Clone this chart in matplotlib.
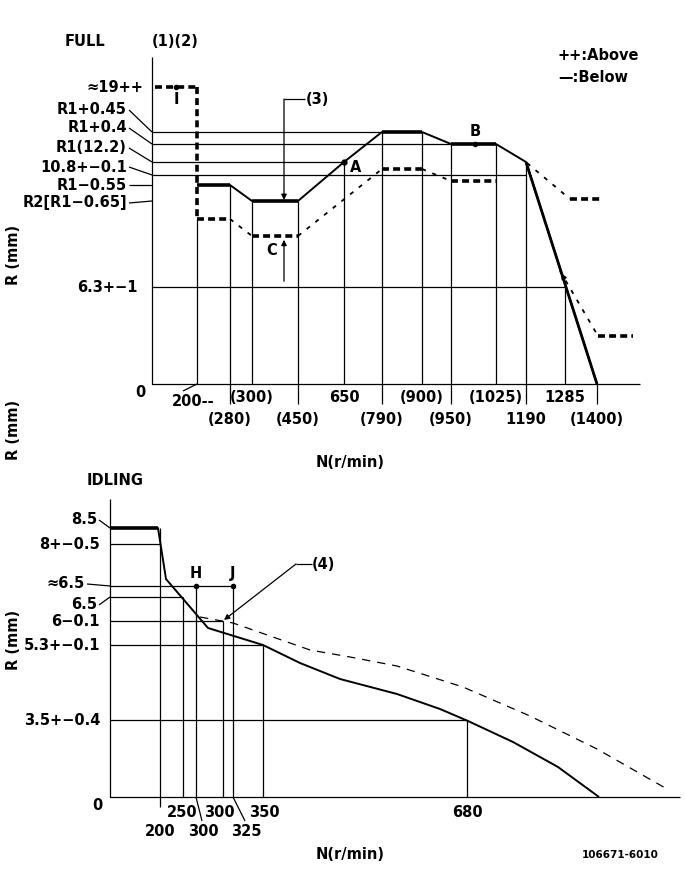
import matplotlib
matplotlib.use("Agg")
import matplotlib.pyplot as plt

plt.rcParams['font.family'] = ['DejaVu Sans']
plt.rcParams['lines.scale_dashes'] = False
plt.rcParams['lines.solid_capstyle'] = 'butt'

# ---- FULL chart (schematic, drawing units) ----
full_x0, full_y0, full_ytop, full_xend = 152, 385, 58, 640

full_r_labels = ["≈19++", "R1+0.45", "R1+0.4", "R1(12.2)", "10.8+−0.1",
                 "R1−0.55", "R2[R1−0.65]", "6.3+−1"]
full_r_level = [88, 133, 145, 163, 176, 186, 202, 288]
full_r_text_y = [88, 110, 128, 148, 167, 185, 203, 288]

full_n_labels = ["200--", "(280)", "(300)", "(450)", "650", "(790)", "(900)",
                 "(950)", "(1025)", "1190", "1285", "(1400)"]
full_n_pos = [197, 230, 252, 298, 344, 382, 422, 451, 496, 526, 565, 597]
full_n_row = [0, 1, 0, 1, 0, 1, 0, 1, 0, 1, 0, 1]
full_n_top = [220, 186, 202, 202, 163, 133, 133, 145, 145, 163, 288, 385]

full_solid_x = [197, 230, 252, 298, 344, 382, 422, 451, 496, 526, 597]
full_solid_y = [186, 186, 202, 202, 163, 133, 133, 145, 145, 163, 385]

full_dash_x = [155, 197, 197, 230, 252, 298, 382, 422, 451, 496]
full_dash_y = [88, 88, 220, 220, 237, 237, 170, 170, 182, 182]
full_dash2_x = [527, 570, 600]
full_dash2_y = [164, 200, 200]
full_dash3_x = [560, 598, 633]
full_dash3_y = [272, 337, 337]

# ---- IDLING chart ----
idl_x0, idl_y0, idl_ytop, idl_xend = 110, 798, 500, 680

idl_r_labels = ["8.5", "8+−0.5", "≈6.5", "6.5", "6−0.1", "5.3+−0.1", "3.5+−0.4"]
idl_r_level = [529, 545, 587, 598, 622, 646, 721]
idl_r_text_y = [520, 545, 584, 605, 622, 646, 721]
idl_r_text_x = [97, 100, 85, 97, 100, 100, 100]
idl_r_line_end = [110, 160, 233, 183, 223, 263, 467]

idl_n_labels = ["200", "250", "300", "300", "325", "350", "680"]
idl_n_pos = [160, 183, 196, 223, 233, 263, 467]
idl_n_top = [529, 598, 587, 622, 587, 646, 721]

idl_solid_x = [110, 158, 166, 208, 263, 300, 340, 397, 440, 468, 513, 558, 599]
idl_solid_y = [529, 529, 580, 629, 646, 664, 680, 695, 710, 722, 743, 768, 798]
idl_dash_x = [200, 233, 310, 350, 397, 463, 530, 597, 667]
idl_dash_y = [618, 624, 651, 658, 667, 688, 717, 750, 790]

fig = plt.figure(figsize=(6.85, 8.87), dpi=100)
ax = fig.add_axes([0, 0, 1, 1])
ax.set_xlim(0, 685)
ax.set_ylim(887, 0)
ax.axis('off')

K = 'black'
fs = 10.5
tk = dict(color=K, fontsize=fs, fontweight='bold')
thin = dict(color=K, lw=0.9)

# ---------- FULL ----------
ax.plot([full_x0, full_x0, full_xend], [full_ytop, full_y0, full_y0], **thin)
ax.text(85, 42, "FULL", ha='center', va='center', **tk)
ax.text(175, 42, "(1)(2)", ha='center', va='center', **tk)
ax.text(558, 55, "++:Above", ha='left', va='center', **tk)
ax.text(558, 78, "—:Below", ha='left', va='center', **tk)

for lab, lv, ty in zip(full_r_labels, full_r_level, full_r_text_y):
    if lab.startswith("≈"):
        ax.text(143, ty, lab, ha='right', va='center', **tk)
        continue
    if lab.startswith("6.3"):
        ax.text(138, ty, lab, ha='right', va='center', **tk)
    else:
        ax.text(127, ty, lab, ha='right', va='center', **tk)
        ax.plot([129, full_x0], [ty + 1, lv], **thin)

# horizontal reference lines to the curve
ax.plot([full_x0, 382], [133, 133], **thin)
ax.plot([full_x0, 451], [145, 145], **thin)
ax.plot([full_x0, 344], [163, 163], **thin)
ax.plot([full_x0, 526], [176, 176], **thin)
ax.plot([full_x0, 565], [288, 288], **thin)

for lab, xp, row, top in zip(full_n_labels, full_n_pos, full_n_row, full_n_top):
    bot = full_y0 + (20 if row else 0)
    ax.plot([xp, xp], [top, bot], **thin)
    ty = 398 if row == 0 else 420
    if lab == "200--":
        ax.text(193, 402, lab, ha='center', va='center', **tk)
        ax.plot([xp, 183], [full_y0, 392], **thin)
    else:
        ax.text(xp, ty, lab, ha='center', va='center', **tk)
ax.text(140, 393, "0", ha='center', va='center', **tk)

# solid curve
ax.plot(full_solid_x, full_solid_y, color=K, lw=1.4)
for i in [0, 2, 5, 7]:
    ax.plot(full_solid_x[i:i + 2], full_solid_y[i:i + 2], color=K, lw=2.6)
ax.plot(full_solid_x[-2:], full_solid_y[-2:], color=K, lw=2.0)

# dashed curve
thick_d = dict(color=K, lw=2.6, linestyle=(0, (5, 3)))
thin_d = dict(color=K, lw=1.3, linestyle=(0, (3, 5)))
for i in range(len(full_dash_x) - 1):
    flat = full_dash_y[i] == full_dash_y[i + 1] or full_dash_x[i] == full_dash_x[i + 1]
    ax.plot(full_dash_x[i:i + 2], full_dash_y[i:i + 2], **(thick_d if flat else thin_d))
ax.plot(full_dash2_x[:2], full_dash2_y[:2], **thin_d)
ax.plot(full_dash2_x[1:], full_dash2_y[1:], **thick_d)
ax.plot(full_dash3_x[:2], full_dash3_y[:2], **thin_d)
ax.plot(full_dash3_x[1:], full_dash3_y[1:], **thick_d)
ax.annotate("", xy=(full_dash3_x[0], full_dash3_y[0]), xytext=(566, 283),
            arrowprops=dict(arrowstyle='-|>', color=K, lw=1.0, mutation_scale=8))

# markers
ax.plot([176], [88], 'o', color=K, ms=3)
ax.text(176, 100, "I", ha='center', va='center', **tk)
ax.plot([344], [163], 'o', color=K, ms=3.5)
ax.text(356, 168, "A", ha='center', va='center', **tk)
ax.plot([475], [145], 'o', color=K, ms=3)
ax.text(475, 132, "B", ha='center', va='center', **tk)
ax.annotate("", xy=(284, 238), xytext=(284, 285),
            arrowprops=dict(arrowstyle='-|>', color=K, lw=0.9, mutation_scale=8))
ax.text(272, 251, "C", ha='center', va='center', **tk)
ax.plot([284, 305], [100, 100], **thin)
ax.annotate("", xy=(284, 201), xytext=(284, 100),
            arrowprops=dict(arrowstyle='-|>', color=K, lw=0.9, mutation_scale=8,
                            shrinkA=0, shrinkB=0))
ax.text(317, 100, "(3)", ha='center', va='center', **tk)

ax.text(14, 255, "R (mm)", rotation=90, ha='center', va='center', **tk)
ax.text(14, 430, "R (mm)", rotation=90, ha='center', va='center', **tk)
ax.text(350, 463, "N(r/min)", ha='center', va='center', **tk)

# ---------- IDLING ----------
ax.plot([idl_x0, idl_x0, idl_xend], [idl_ytop, idl_y0, idl_y0], **thin)
ax.text(115, 481, "IDLING", ha='center', va='center', **tk)

for lab, lv, ty, tx, xe in zip(idl_r_labels, idl_r_level, idl_r_text_y,
                               idl_r_text_x, idl_r_line_end):
    ax.text(tx, ty, lab, ha='right', va='center', **tk)
    if tx < 100:
        ax.plot([tx + 2, idl_x0], [ty + 1, lv], **thin)
    if xe > idl_x0:
        ax.plot([idl_x0, xe], [lv, lv], **thin)

for xp, top in zip(idl_n_pos, idl_n_top):
    bot = idl_y0 + (10 if xp == 160 else 0)
    ax.plot([xp, xp], [top, bot], **thin)

ax.text(160, 832, idl_n_labels[0], ha='center', va='center', **tk)
ax.text(182, 813, idl_n_labels[1], ha='center', va='center', **tk)
ax.text(203, 832, idl_n_labels[2], ha='center', va='center', **tk)
ax.plot([196, 202], [idl_y0, 822], **thin)
ax.text(219, 813, idl_n_labels[3], ha='center', va='center', **tk)
ax.text(246, 832, idl_n_labels[4], ha='center', va='center', **tk)
ax.plot([233, 245], [idl_y0, 822], **thin)
ax.text(264, 813, idl_n_labels[5], ha='center', va='center', **tk)
ax.text(467, 813, idl_n_labels[6], ha='center', va='center', **tk)
ax.text(97, 806, "0", ha='center', va='center', **tk)

ax.plot(idl_solid_x, idl_solid_y, color=K, lw=1.4)
ax.plot(idl_solid_x[:2], idl_solid_y[:2], color=K, lw=2.6)
ax.plot(idl_dash_x, idl_dash_y, color=K, lw=0.9, linestyle=(0, (6, 5)))

ax.plot([196, 233], [587, 587], 'o', color=K, ms=3)
ax.text(196, 574, "H", ha='center', va='center', **tk)
ax.text(233, 574, "J", ha='center', va='center', **tk)

ax.plot([296, 312], [565, 565], **thin)
ax.annotate("", xy=(224, 621), xytext=(296, 565),
            arrowprops=dict(arrowstyle='-|>', color=K, lw=0.9, mutation_scale=8,
                            shrinkA=0, shrinkB=0))
ax.text(323, 565, "(4)", ha='center', va='center', **tk)

ax.text(14, 640, "R (mm)", rotation=90, ha='center', va='center', **tk)
ax.text(350, 855, "N(r/min)", ha='center', va='center', **tk)
ax.text(620, 855, "106671-6010", ha='center', va='center', color=K,
        fontsize=7.5, fontweight='bold')

fig.savefig("out.png", dpi=100)
